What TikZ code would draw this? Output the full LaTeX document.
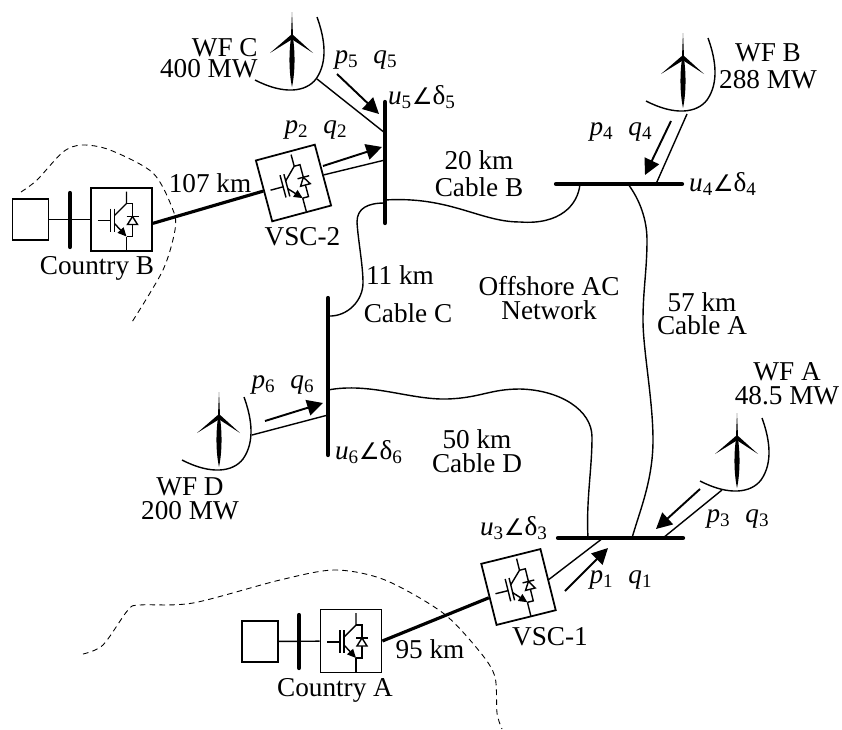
\documentclass[tikz,border=0pt]{standalone}
\usepackage{fontspec}
\setmainfont{Liberation Serif}
\newfontfamily\symfont{DejaVu Sans}
\usetikzlibrary{arrows.meta}
\newcommand{\pq}[1]{\textit{p}\textsubscript{#1}\hspace{8.5pt}\textit{q}\textsubscript{#1}}
\newcommand{\ud}[1]{\textit{u}\textsubscript{#1}{\symfont\fontsize{13}{13}\selectfont ∠}δ\textsubscript{#1}}
\tikzset{
    lbl/.style={font=\fontsize{15.5}{13.6}\selectfont,align=center,inner sep=0pt},
    bus/.style={line width=2.4pt,line cap=round},
    cable/.style={line width=0.8pt},
    link/.style={line width=1.8pt},
    flow/.style={line width=1.1pt,-{Triangle[length=9pt,width=9pt]}},
    conv/.style={draw,line width=1pt,minimum width=1.22cm,minimum height=1.26cm,inner sep=0pt},
    src/.style={draw,line width=1pt,minimum width=0.72cm,minimum height=0.82cm,inner sep=0pt},
    border/.style={line width=0.5pt,dash pattern=on 3.2pt off 2.4pt},
    turbine/.pic={
        \fill (0,-25) .. controls (0.7,-10) and (0.9,-5) .. (0.9,0) .. controls (3.2,15) and (3.2,35) .. (0,50)
            .. controls (-3.2,35) and (-3.2,15) .. (-0.9,0) .. controls (-0.9,-5) and (-0.7,-10) .. (0,-25) -- cycle;
        \fill (0,-3) -- (-22,16) -- (-1,3) -- (1,3) -- (21,16) -- cycle;
        \draw[cable] (25,-20) .. controls (33,2) and (36,25) .. (24,42) .. controls (14,55) and (-8,58) .. (-37,43);
    },
    igbt/.pic={
        \draw[line width=0.8pt] (-24,1) -- (-11,1);
        \draw[line width=0.8pt] (-11,-11) -- (-11,12);
        \draw[line width=0.8pt] (-7,-11) -- (-7,12);
        \draw[line width=0.8pt] (5,-28) -- (5,-16) -- (-7,-4);
        \draw[line width=0.8pt,-{Triangle[length=5pt,width=4.5pt]}] (-7,4) -- (5,17);
        \draw[line width=0.8pt] (5,17) -- (5,31);
        \draw[line width=0.8pt] (5,-16) -- (11,-16) -- (11,17) -- (5,17);
        \draw[line width=0.8pt,fill=white] (11,-3) -- (16,5) -- (6,5) -- cycle;
        \draw[line width=0.8pt] (5,-3) -- (17,-3);
    },
}
\begin{document}
\begin{tikzpicture}[x=0.02cm,y=-0.02cm]
    \useasboundingbox (0,0) rectangle (842,730);
    % converters and sources
    \node[src] at (260,641.5) (srca) {};
    \node[src] at (30.5,219.5) (srcb) {};
    \node[conv] at (351,641) (conva) {};
    \node[conv] at (121.5,219.5) (convb) {};
    \node[conv,rotate=14] at (518.5,587) (vsc1) {};
    \node[conv,rotate=15] at (293.5,183) (vsc2) {};
    \pic at (conva.center) {igbt};
    \pic at (convb.center) {igbt};
    \pic[rotate=14] at (vsc1.center) {igbt};
    \pic[rotate=15] at (vsc2.center) {igbt};
    % buses
    \coordinate (b3l) at (558,538);
    \coordinate (b3r) at (683,538);
    \coordinate (b4l) at (556,184);
    \coordinate (b4r) at (682,184);
    \coordinate (b5t) at (385,102);
    \coordinate (b5b) at (385,223);
    \coordinate (b6t) at (328,298);
    \coordinate (b6b) at (328,455);
    \coordinate (bat) at (299,615);
    \coordinate (bab) at (299,668);
    \coordinate (bbt) at (70,193);
    \coordinate (bbb) at (70,247);
    \draw[bus] (b3l)--(b3r);
    \draw[bus] (b4l)--(b4r);
    \draw[bus] (b5t)--(b5b);
    \draw[bus] (b6t)--(b6b);
    \draw[bus] (bat)--(bab);
    \draw[bus] (bbt)--(bbb);
    % wind farms
    \pic at (292,37) {turbine};
    \pic at (683,58) {turbine};
    \pic at (737,438) {turbine};
    \pic at (219,417) {turbine};
    % connection points
    \coordinate (tapc) at (317,79);
    \coordinate (tapb) at (687,114);
    \coordinate (tapa) at (722,490);
    \coordinate (tapd) at (252,435);
    \coordinate (b5c) at (385,133);
    \coordinate (b5v) at (385,160);
    \coordinate (b5k) at (385,200);
    \coordinate (b5l) at (385,203);
    \coordinate (b4k) at (580,184);
    \coordinate (b4n) at (628,184);
    \coordinate (b4w) at (656,184);
    \coordinate (b6k) at (328,316);
    \coordinate (b6n) at (328,390);
    \coordinate (b6w) at (328,415);
    \coordinate (b3n) at (588,538);
    \coordinate (b3k) at (632,538);
    \coordinate (b3w) at (663,538);
    \coordinate (b3v) at (603,538);
    \draw[cable] (srca)--(conva);
    \draw[cable] (srcb)--(convb);
    \draw[link] (conva.east)--(vsc1.186);
    \draw[link] (convb.-7)--(vsc2.west);
    \draw[cable] (vsc1.east)--(b3v);
    \draw[cable] (vsc2.east)--(b5v);
    \draw[cable] (tapc)--(b5c);
    \draw[cable] (tapb)--(b4w);
    \draw[cable] (tapa)--(b3w);
    \draw[cable] (tapd)--(b6w);
    % cables
    \draw[cable] (b5k) .. controls (450,196) and (480,222) .. (520,222) .. controls (560,225) and (578,205) .. (b4k);
    \draw[cable] (b5l) .. controls (368,203) and (357,208) .. (357,222) .. controls (358,240) and (363,265) .. (363,283) .. controls (363,300) and (348,317) .. (b6k);
    \draw[cable] (b4n) .. controls (640,200) and (647,220) .. (647,240) .. controls (647,270) and (643,290) .. (643,320) .. controls (643,350) and (653,400) .. (653,440) .. controls (653,480) and (640,510) .. (b3k);
    \draw[cable] (b6n) .. controls (370,382) and (410,400) .. (447,399) .. controls (480,398) and (490,389) .. (520,389) .. controls (560,390) and (592,410) .. (592,437) .. controls (592,470) and (586,500) .. (b3n);
    % flow arrows
    \coordinate (f1a) at (565,591);
    \coordinate (f1b) at (608,548);
    \coordinate (f2a) at (323,166);
    \coordinate (f2b) at (382,147);
    \coordinate (f3a) at (700,489);
    \coordinate (f3b) at (656,529);
    \coordinate (f4a) at (671,121);
    \coordinate (f4b) at (645,175);
    \coordinate (f5a) at (337,74);
    \coordinate (f5b) at (379,114);
    \coordinate (f6a) at (265,421);
    \coordinate (f6b) at (323,403);
    \draw[flow] (f1a)--(f1b);
    \draw[flow] (f2a)--(f2b);
    \draw[flow] (f3a)--(f3b);
    \draw[flow] (f4a)--(f4b);
    \draw[flow] (f5a)--(f5b);
    \draw[flow] (f6a)--(f6b);
    % borders
    \draw[border] plot[smooth] coordinates {(83,654) (103,645) (128,610) (140,605) (193,603) (280,580) (335,570) (385,580) (443,613) (480,652) (495,677) (497,713) (502,729)};
    \draw[border] plot[smooth] coordinates {(21,192) (37,180) (63,152) (82,145) (110,150) (153,173) (173,210) (175,230) (163,270) (132,322)};
    % labels
    \node[lbl,align=right,anchor=east] at (258,58) (lwfc) {WF C\\[-1.8pt]400 MW};
    \node[lbl] at (768,66) (lwfb) {WF B\\[1.7pt]288 MW};
    \node[lbl] at (787,384) (lwfa) {WF A\\48.5 MW};
    \node[lbl] at (190,499) (lwfd) {WF D\\200 MW};
    \node[lbl] at (97,268) (lcb) {Country B};
    \node[lbl] at (335,690) (lca) {Country A};
    \node[lbl] at (210,183) (l107) {107 km};
    \node[lbl] at (430,649) (l95) {95 km};
    \node[lbl] at (302.5,237) (lvsc2) {VSC-2};
    \node[lbl] at (550,637) (lvsc1) {VSC-1};
    \node[lbl] at (479,174) (lcabb) {20 km\\[1.7pt]Cable B};
    \node[lbl] at (400,275) (l11) {11 km};
    \node[lbl] at (408,313) (lcabc) {Cable C};
    \node[lbl] at (549,298) (lnet) {Offshore AC\\[-0.4pt]Network};
    \node[lbl] at (702,314) (lcaba) {57 km\\[-0.4pt]Cable A};
    \node[lbl] at (477,451) (lcabd) {50 km\\Cable D};
    \node[lbl] at (366,60) (lpq5) {\pq{5}};
    \node[lbl] at (316,130) (lpq2) {\pq{2}};
    \node[lbl] at (283,385) (lpq6) {\pq{6}};
    \node[lbl] at (621,132) (lpq4) {\pq{4}};
    \node[lbl] at (738,519) (lpq3) {\pq{3}};
    \node[lbl] at (621,580) (lpq1) {\pq{1}};
    \node[lbl] at (422,97) (lu5) {\ud{5}};
    \node[lbl] at (369,452) (lu6) {\ud{6}};
    \node[lbl] at (514,528) (lu3) {\ud{3}};
    \node[lbl] at (723,184) (lu4) {\ud{4}};
\end{tikzpicture}
\end{document}
